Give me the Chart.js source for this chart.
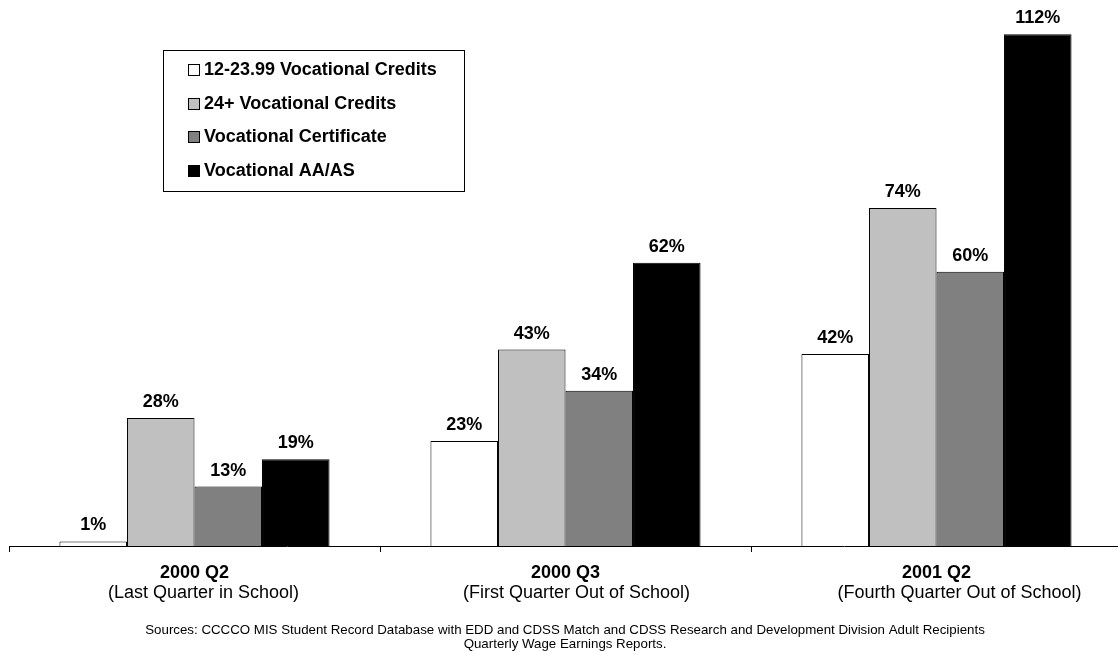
<!DOCTYPE html>
<html>
<head>
<meta charset="utf-8">
<script src="https://cdn.jsdelivr.net/npm/chart.js@4/dist/chart.umd.min.js"></script>
<style>
  html, body { margin: 0; padding: 0; background: #fff; overflow: hidden; }
  #wrap { width: 1131px; height: 652px; }
</style>
</head>
<body>
<div id="wrap"><canvas id="earningsChart" width="1131" height="652"></canvas></div>
<script>
// Categories and series values
var categories = ['2000 Q2', '2000 Q3', '2001 Q2'];
var subtitles = ['(Last Quarter in School)', '(First Quarter Out of School)', '(Fourth Quarter Out of School)'];
var seriesNames = ['12-23.99 Vocational Credits', '24+ Vocational Credits', 'Vocational Certificate', 'Vocational AA/AS'];
var credits12 = [1, 23, 42];
var credits24 = [28, 43, 74];
var certificate = [13, 34, 60];
var aaas = [19, 62, 112];
var sourceLines = [
    'Sources: CCCCO MIS Student Record Database with EDD and CDSS Match and CDSS Research and Development Division Adult Recipients',
    'Quarterly Wage Earnings Reports.'
];

var FONT = '"Liberation Sans", Arial, sans-serif';
var fills = ['#ffffff', '#c0c0c0', '#808080', '#000000'];
var seriesData = [credits12, credits24, certificate, aaas];
// subtitle lines sit a little right of the category centre
var subtitleShift = [9, 11, 23];

// Percent labels above each bar, legend box, two-line category labels, sources note
var extrasPlugin = {
    id: 'extras',
    afterDatasetsDraw: function(chart) {
        var ctx = chart.ctx;
        ctx.save();
        ctx.fillStyle = '#000';
        ctx.textAlign = 'center';
        ctx.textBaseline = 'alphabetic';
        ctx.font = 'bold 18px ' + FONT;
        chart.data.datasets.forEach(function(ds, i) {
            var meta = chart.getDatasetMeta(i);
            meta.data.forEach(function(bar, j) {
                ctx.fillText(ds.data[j] + '%', bar.x, bar.y - 11);
            });
        });

        // legend
        ctx.lineWidth = 1;
        ctx.strokeStyle = '#000';
        ctx.strokeRect(163.5, 50.5, 301, 141);
        ctx.textAlign = 'left';
        ctx.textBaseline = 'middle';
        ctx.font = 'bold 18px ' + FONT;
        chart.data.datasets.forEach(function(ds, i) {
            var cy = 69.5 + i * 33.5;
            ctx.fillStyle = ds.backgroundColor;
            ctx.fillRect(188.5, Math.round(cy - 5.5) + 0.5, 11, 11);
            ctx.strokeRect(188.5, Math.round(cy - 5.5) + 0.5, 11, 11);
            ctx.fillStyle = '#000';
            ctx.fillText(ds.label, 204, cy + 1);
        });

        // category labels under the axis
        var xs = chart.scales.x;
        ctx.textAlign = 'center';
        xs.getLabels().forEach(function(lab, i) {
            var x = xs.getPixelForValue(i);
            ctx.font = 'bold 18px ' + FONT;
            ctx.fillText(lab, x, 573);
            ctx.font = '18px ' + FONT;
            ctx.fillText(subtitles[i], x + subtitleShift[i], 593);
        });

        // sources note
        ctx.font = '13.3px ' + FONT;
        ctx.textBaseline = 'alphabetic';
        ctx.fillText(sourceLines[0], 565, 634);
        ctx.fillText(sourceLines[1], 565, 648);
        ctx.restore();
    }
};

var ctx = document.getElementById('earningsChart').getContext('2d');
var earningsChart = new Chart(ctx, {
    type: 'bar',
    data: {
        labels: categories,
        datasets: seriesNames.map(function(name, i) {
            return {
                label: name,
                data: seriesData[i],
                backgroundColor: fills[i],
                borderColor: '#000',
                borderWidth: 1,
                barPercentage: 1,
                categoryPercentage: 0.728
            };
        })
    },
    options: {
        responsive: false,
        animation: false,
        layout: { padding: { left: 9, right: 9, top: 0, bottom: 100 } },
        plugins: {
            legend: { display: false },
            tooltip: { enabled: false }
        },
        scales: {
            x: {
                offset: true,
                ticks: { display: false },
                grid: { display: true, drawOnChartArea: false, drawTicks: true, tickLength: 6, color: '#000', lineWidth: 1 },
                border: { display: true, color: '#000', width: 1 }
            },
            y: {
                display: false,
                min: 0,
                max: 119.5
            }
        }
    },
    plugins: [extrasPlugin]
});
</script>
</body>
</html>
